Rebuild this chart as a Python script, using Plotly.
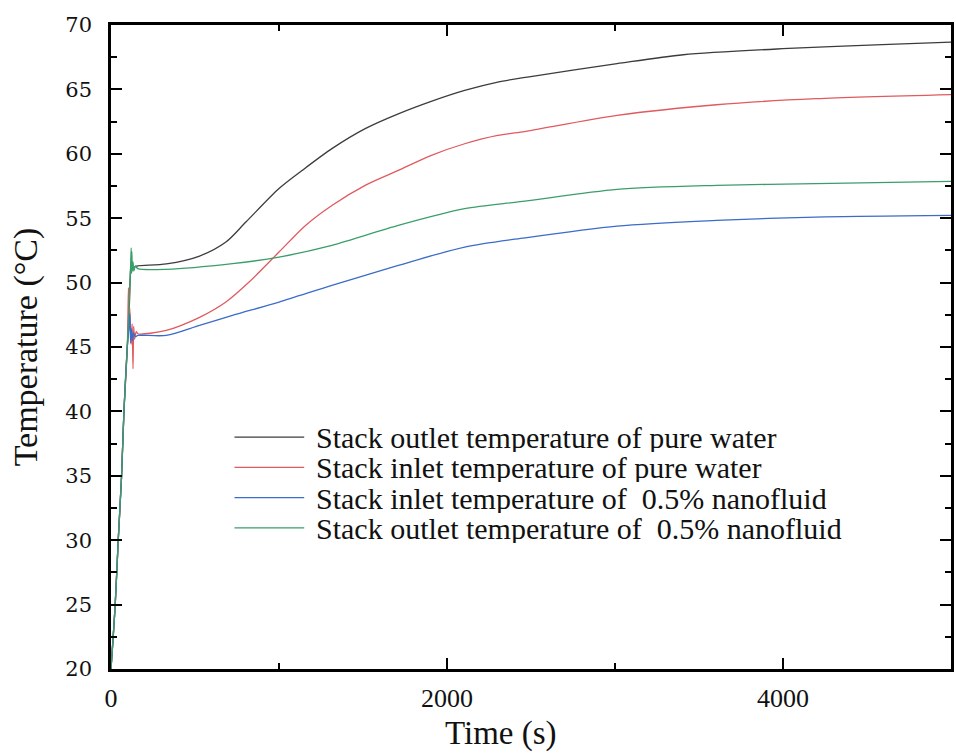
import plotly.graph_objects as go

# ---- data ----
t_black = [0, 25, 43, 63, 77, 97, 110, 120, 130, 160, 330, 527, 684, 803, 1000, 1137, 1315,
           1513, 1710, 1906, 2105, 2302, 2479, 3012, 3406, 3998, 4590, 5000]
T_black = [20, 25, 30, 35, 40, 45, 48.5, 51.5, 51.2, 51.3, 51.45, 52.06, 53.15, 54.7, 57.3, 58.7,
           60.4, 61.95, 63.1, 64.07, 64.92, 65.57, 65.96, 67.0, 67.69, 68.16, 68.47, 68.67]

t_red = [0, 25, 43, 63, 77, 97, 104, 108, 112, 120, 126, 131, 135, 140, 150, 160, 329, 527, 684,
         822, 1000, 1158, 1315, 1513, 1710, 1907, 2105, 2302, 2450, 3012, 3604, 4195, 5000]
T_red = [20, 25, 30, 35, 40, 45, 49.6, 46.5, 48.0, 45.2, 46.8, 43.3, 46.6, 45.6, 46.2, 46.03,
         46.29, 47.3, 48.49, 50.04, 52.37, 54.44, 55.99, 57.55, 58.71, 59.88, 60.78, 61.43, 61.7,
         62.98, 63.81, 64.28, 64.6]

t_blue = [0, 25, 43, 63, 77, 97, 107, 112, 117, 122, 128, 135, 145, 160, 329, 527, 723, 1000,
          1315, 1710, 2105, 2450, 3012, 3604, 4195, 5000]
T_blue = [20, 25, 30, 35, 40, 45, 46.5, 47.6, 45.3, 46.4, 45.5, 46.1, 45.8, 45.9, 45.9, 46.68,
          47.45, 48.49, 49.78, 51.33, 52.76, 53.45, 54.39, 54.83, 55.09, 55.22]

t_green = [0, 25, 43, 63, 77, 97, 108, 115, 120, 122, 124, 127, 131, 136, 145, 160, 329, 723,
           1000, 1315, 1710, 2105, 2450, 3012, 3604, 4195, 5000]
T_green = [20, 25, 30, 35, 40, 45, 48.5, 50.5, 52.7, 50.7, 52.4, 50.9, 51.6, 50.9, 51.3, 51.08,
           51.03, 51.47, 51.98, 52.89, 54.44, 55.74, 56.3, 57.24, 57.55, 57.68, 57.86]

names = [
    "Stack outlet temperature of pure water",
    "Stack inlet temperature of pure water",
    "Stack inlet temperature of \u00a00.5% nanofluid",
    "Stack outlet temperature of \u00a00.5% nanofluid",
]
colors = ["#3c3c3c", "#e05a5e", "#3a6cc8", "#3a9e6a"]
series = [(t_black, T_black), (t_red, T_red), (t_blue, T_blue), (t_green, T_green)]

fig = go.Figure()
for (tx, ty), nm, c in zip(series, names, colors):
    fig.add_trace(go.Scatter(x=tx, y=ty, mode="lines", name=nm,
                             line=dict(color=c, width=1.3, shape="spline", smoothing=0.8),
                             showlegend=False))

# manual legend (line sample + text)
leg_y = [0.36, 0.313, 0.266, 0.219]
for nm, c, yy in zip(names, colors, leg_y):
    fig.add_shape(type="line", xref="paper", yref="paper", x0=0.147, x1=0.230, y0=yy, y1=yy,
                  line=dict(color=c, width=1.3))
    fig.add_annotation(xref="paper", yref="paper", x=0.243, y=yy, text=nm, showarrow=False,
                       xanchor="left", yanchor="middle", height=30, borderpad=0,
                       font=dict(family="Liberation Serif", size=30, color="#111"))

# x-axis title as annotation (offset as in reference)
fig.add_annotation(xref="paper", yref="paper", x=0.464, y=-0.1, text="Time (s)",
                   showarrow=False, xanchor="center", yanchor="middle",
                   font=dict(family="Liberation Serif", size=33, color="#111"))

axis_common = dict(showline=True, linecolor="black", linewidth=2.5, mirror="allticks",
                   ticks="inside", ticklen=11, tickwidth=2, tickcolor="black",
                   showgrid=False, zeroline=False)

fig.update_layout(
    width=956, height=753,
    margin=dict(l=111, r=2, t=25, b=84),
    paper_bgcolor="white", plot_bgcolor="white",
    xaxis=dict(range=[0, 5000], dtick=2000, tick0=0,
               minor=dict(dtick=1000, ticks="inside", ticklen=6, tickwidth=2, tickcolor="black"),
               tickfont=dict(family="Liberation Serif", size=26, color="#111"),
               ticklabelstandoff=4, **axis_common),
    yaxis=dict(range=[20, 70], dtick=5, tick0=20,
               minor=dict(dtick=2.5, ticks="inside", ticklen=6, tickwidth=2, tickcolor="black"),
               tickfont=dict(family="DejaVu Serif", size=21, color="#111"),
               ticklabelstandoff=12,
               title=dict(text="Temperature (\u00b0C)", standoff=18,
                          font=dict(family="Liberation Serif", size=34, color="#111")),
               **axis_common),
)

fig.write_html("out.html")
